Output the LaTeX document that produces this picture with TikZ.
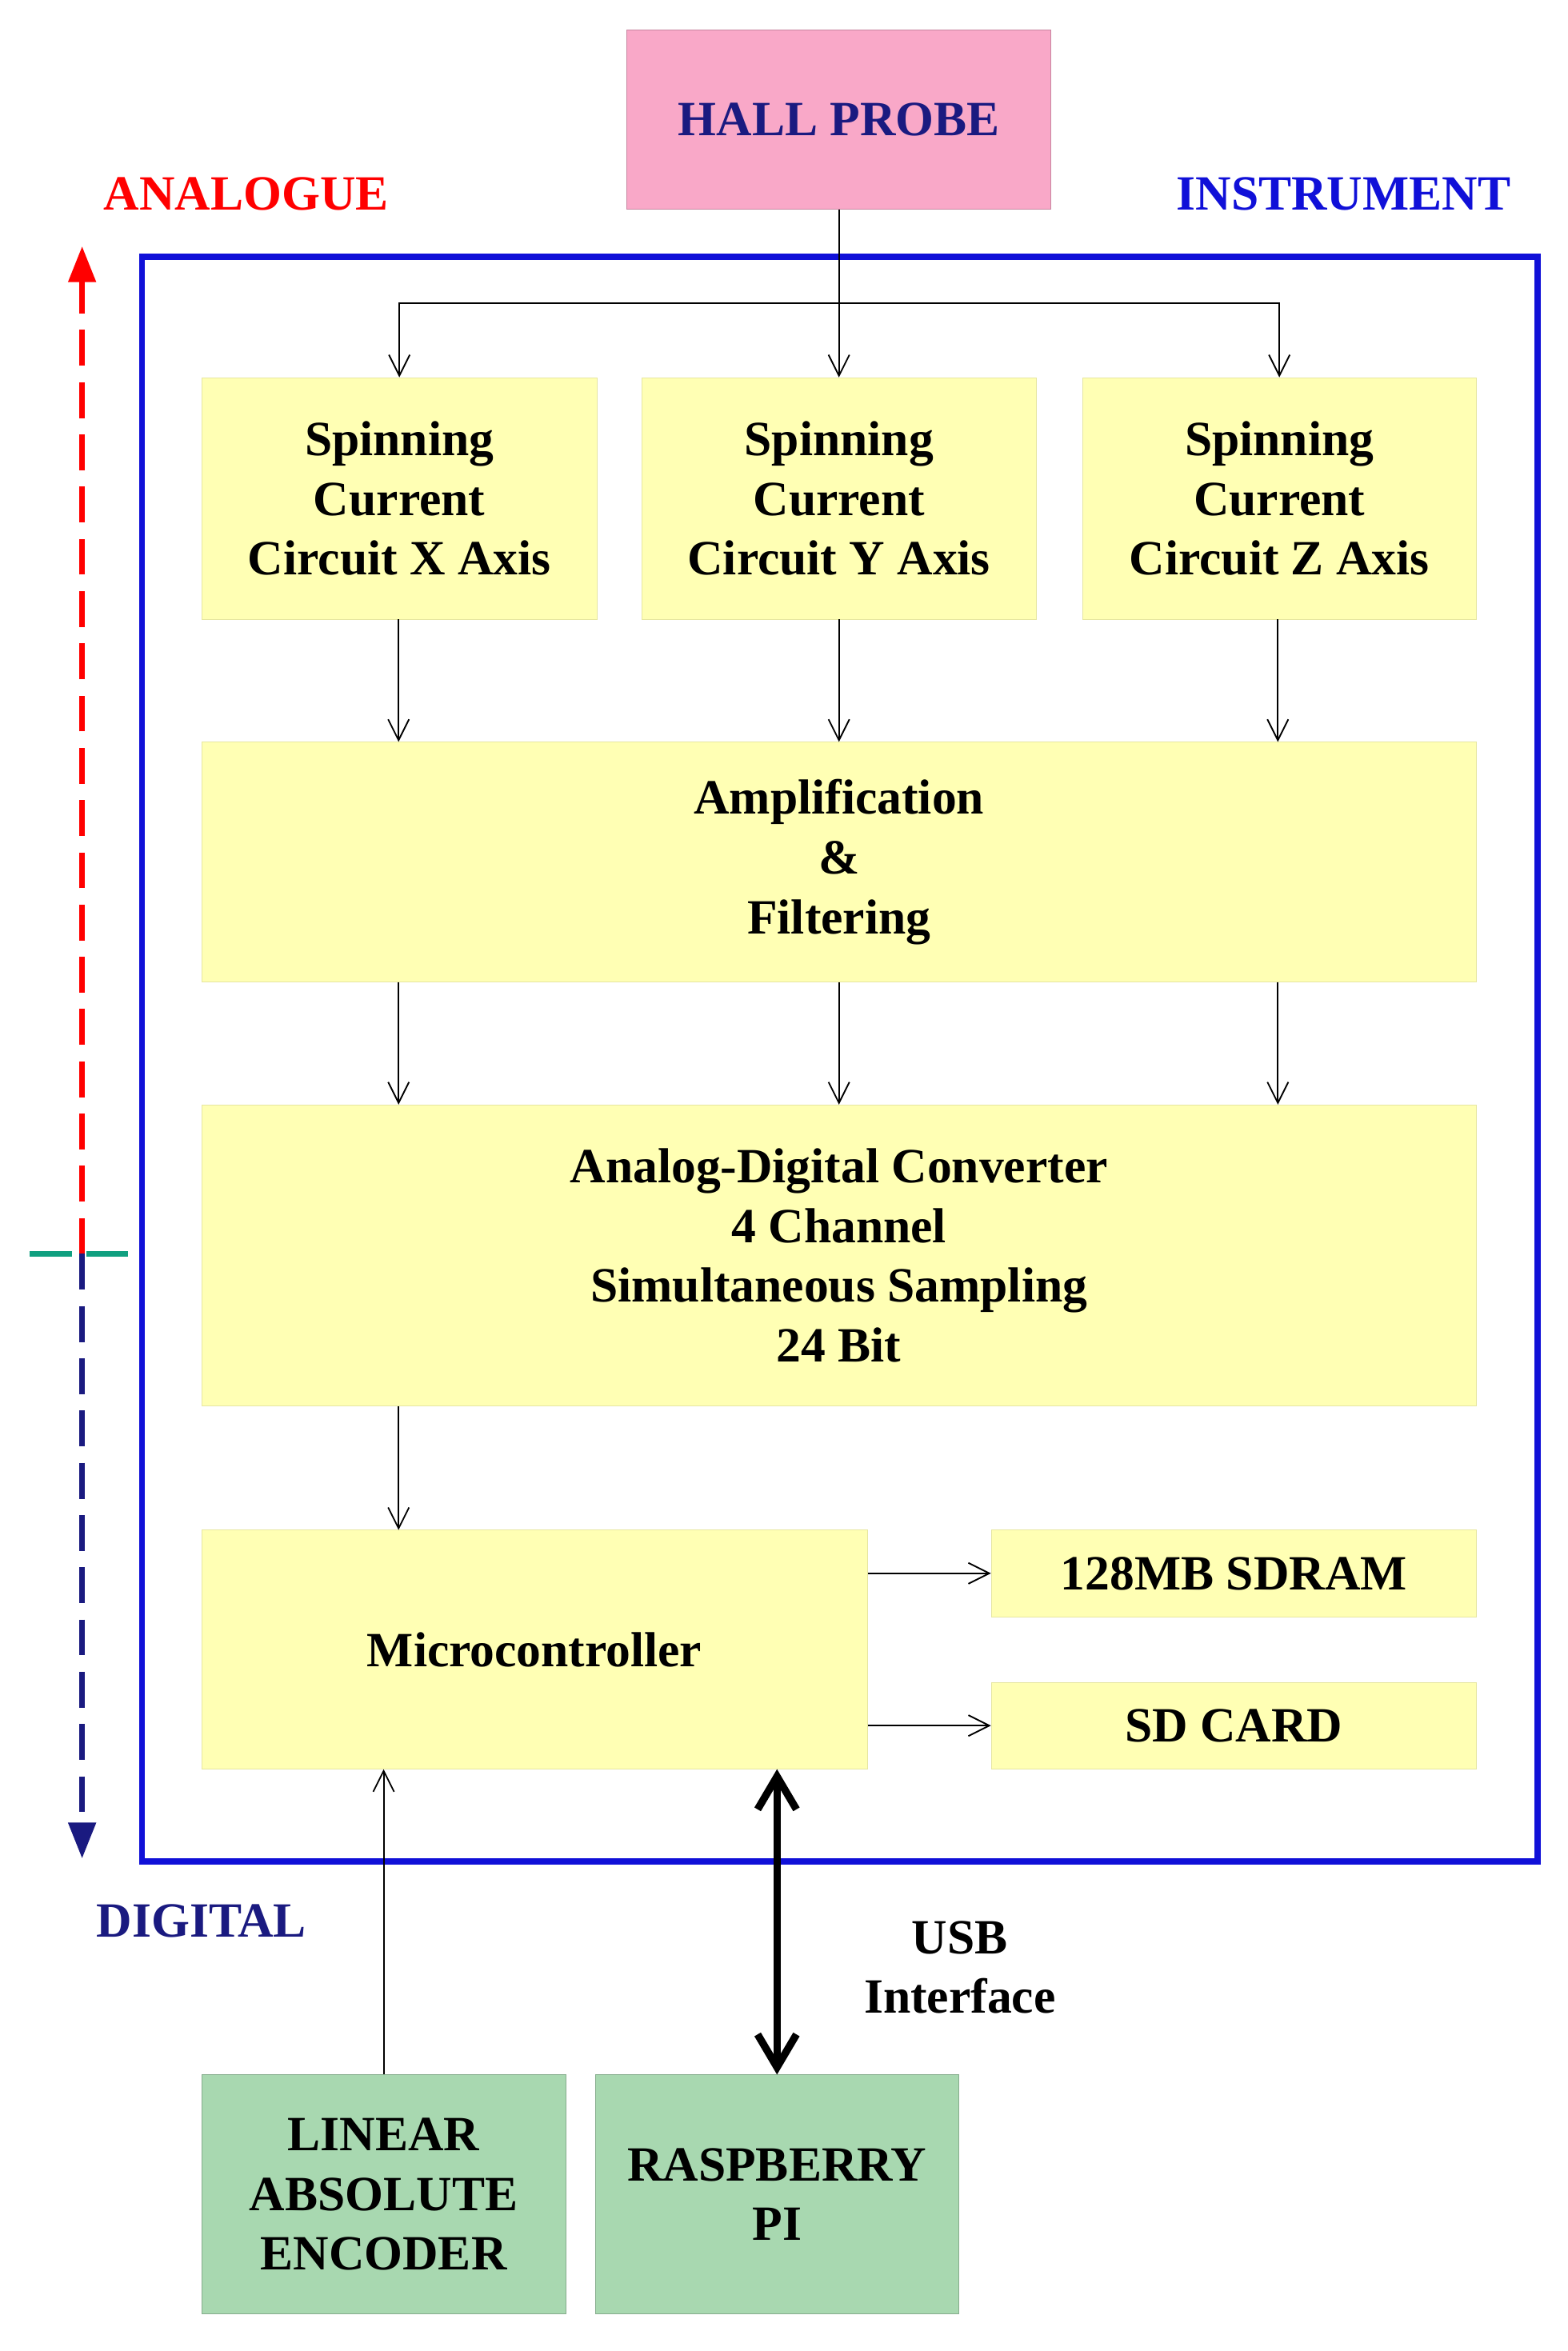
\documentclass[tikz,border=0pt]{standalone}
\usepackage{fontspec}
\setmainfont{Liberation Serif}
\usetikzlibrary{arrows.meta}
\definecolor{boxy}{HTML}{FFFFB4}
\definecolor{boxyd}{HTML}{E6E6A0}
\definecolor{pinkb}{HTML}{F9A8C8}
\definecolor{greenb}{HTML}{A8D8B0}
\definecolor{navy}{HTML}{1A1A80}
\definecolor{instb}{HTML}{1010D8}
\definecolor{teal}{HTML}{10A080}
\begin{document}
\begin{tikzpicture}[x=1pt,y=-1pt,
  txt/.style={font=\bfseries\fontsize{33}{40}\selectfont,align=center},
  yb/.style={draw=boxyd,fill=boxy,txt,inner sep=0},
  arr/.style={-{Straight Barb[length=14pt,width=14pt]},line width=1pt}]
\useasboundingbox (0,0) rectangle (1050,1575);
\node[fill=pinkb,draw=pinkb!80!black,minimum width=284,minimum height=120,txt,text=navy,inner sep=0] (hall) at (562,80) {HALL PROBE};
\node[txt,text=red] (ana) at (165,130) {ANALOGUE};
\node[txt,text=instb] (inst) at (900,130) {INSTRUMENT};
\node[txt,text=navy] (dig) at (135,1287) {DIGITAL};
\node[draw=instb,line width=4pt,minimum width=935,minimum height=1075,inner sep=0] (box) at (562.5,709.5) {};
\node[yb,minimum width=265,minimum height=162] (sx) at (267.5,334) {Spinning\\Current\\Circuit X Axis};
\node[yb,minimum width=264,minimum height=162] (sy) at (562,334) {Spinning\\Current\\Circuit Y Axis};
\node[yb,minimum width=264,minimum height=162] (sz) at (857,334) {Spinning\\Current\\Circuit Z Axis};
\node[yb,minimum width=854,minimum height=161] (amp) at (562,577.5) {Amplification\\\&\\Filtering};
\node[yb,minimum width=854,minimum height=202] (adc) at (562,841) {Analog-Digital Converter\\4 Channel\\Simultaneous Sampling\\24 Bit};
\node[yb,minimum width=446,minimum height=160] (mc) at (358,1105) {Microcontroller};
\node[yb,minimum width=325,minimum height=58] (ram) at (826.5,1054) {128MB SDRAM};
\node[yb,minimum width=325,minimum height=58] (sd) at (826.5,1156) {SD CARD};
\node[fill=greenb,draw=greenb!80!black,txt,minimum width=244,minimum height=160,inner sep=0] (enc) at (257,1470) {LINEAR\\ABSOLUTE\\ENCODER};
\node[fill=greenb,draw=greenb!80!black,txt,minimum width=243,minimum height=160,inner sep=0] (rpi) at (520.5,1470) {RASPBERRY\\PI};
\node[txt] (usb) at (643,1318) {USB\\Interface};
\coordinate (br) at (562,203);
\draw[arr] (hall.south) -- (sy.north);
\draw[arr] (br) -| (sx.north);
\draw[arr] (br) -| (sz.north);
\foreach \x in {267,562,856}{
  \draw[arr] (\x,415) -- (\x,497);
  \draw[arr] (\x,658) -- (\x,740);}
\draw[arr] (267,942) -- (267,1025);
\draw[arr] (mc.east|-ram) -- (ram.west);
\draw[arr] (mc.east|-sd) -- (sd.west);
\draw[arr] (enc.north) -- (enc.north|-mc.south);
\draw[line width=5pt,{Straight Barb[length=22pt,width=26pt]}-{Straight Barb[length=22pt,width=26pt]}] (rpi.north) -- (rpi.north|-mc.south);
\coordinate (mid) at (55,840);
\draw[red,line width=3.5pt,dash pattern=on 24pt off 11pt,-{Triangle[length=24pt,width=18pt]}] (mid) -- (55,165);
\draw[navy,line width=3.5pt,dash pattern=on 24pt off 11pt,-{Triangle[length=24pt,width=18pt]}] (mid) -- (55,1245);
\draw[teal,line width=3.5pt,dash pattern=on 28pt off 10pt] (20,840) -- (88,840);
\end{tikzpicture}
\end{document}
